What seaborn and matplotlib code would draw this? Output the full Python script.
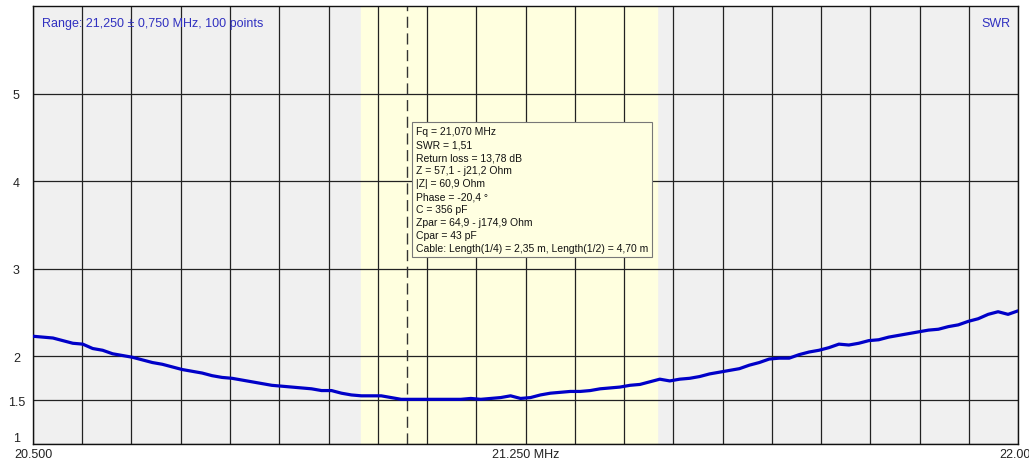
import numpy as np
import matplotlib
matplotlib.use('Agg')
import matplotlib.pyplot as plt
import seaborn as sns
import pandas as pd

# Sweep settings: 21,250 +/- 0,750 MHz, 100 points
freq_start = 20.5
freq_stop = 22.0
n_points = 100

# SWR readings (one per sweep point)
swr_values = [
    2.23, 2.22, 2.21, 2.18, 2.15, 2.14, 2.09, 2.07, 2.03, 2.01,
    1.99, 1.96, 1.93, 1.91, 1.88, 1.85, 1.83, 1.81, 1.78, 1.76,
    1.75, 1.73, 1.71, 1.69, 1.67, 1.66, 1.65, 1.64, 1.63, 1.61,
    1.61, 1.58, 1.56, 1.55, 1.55, 1.55, 1.53, 1.51, 1.51, 1.51,
    1.51, 1.51, 1.51, 1.51, 1.52, 1.51, 1.52, 1.53, 1.55, 1.52,
    1.53, 1.56, 1.58, 1.59, 1.60, 1.60, 1.61, 1.63, 1.64, 1.65,
    1.67, 1.68, 1.71, 1.74, 1.72, 1.74, 1.75, 1.77, 1.80, 1.82,
    1.84, 1.86, 1.90, 1.93, 1.97, 1.98, 1.98, 2.02, 2.05, 2.07,
    2.10, 2.14, 2.13, 2.15, 2.18, 2.19, 2.22, 2.24, 2.26, 2.28,
    2.30, 2.31, 2.34, 2.36, 2.40, 2.43, 2.48, 2.51, 2.48, 2.52,
]

# 15 m amateur band (highlighted) and the cursor frequency
band_start = 21.0
band_stop = 21.45
cursor_freq = 21.07

y_ticks = [1, 1.5, 2, 3, 4, 5]
y_tick_labels = ['1', '1.5', '2', '3', '4', '5']

cursor_info = [
    'Fq = 21,070 MHz',
    'SWR = 1,51',
    'Return loss = 13,78 dB',
    'Z = 57,1 - j21,2 Ohm',
    '|Z| = 60,9 Ohm',
    'Phase = -20,4 °',
    'C = 356 pF',
    'Zpar = 64,9 - j174,9 Ohm',
    'Cpar = 43 pF',
    'Cable: Length(1/4) = 2,35 m, Length(1/2) = 4,70 m',
]

df = pd.DataFrame({
    'freq': np.linspace(freq_start, freq_stop, n_points),
    'swr': swr_values,
})

sns.set_style('white')
plt.rcParams['font.family'] = ['Liberation Sans', 'DejaVu Sans']

fig = plt.figure(figsize=(10.29, 4.6), dpi=100)
ax = fig.add_axes([33 / 1029, 1 - 445 / 460, 985 / 1029, 438 / 460])
ax.set_facecolor('#f0f0f0')

# Band highlight and cursor line
ax.axvspan(band_start, band_stop, color='#ffffdf', zorder=0)
ax.axvline(cursor_freq, color='#333333', lw=1, ls=(0, (8, 4)), zorder=2)

# SWR trace
sns.lineplot(data=df, x='freq', y='swr', ax=ax, color='#0000c8', lw=2.3, zorder=3)

ax.set_xlim(freq_start, freq_stop)
ax.set_ylim(1, 6)

# 20 vertical divisions, only three labelled
x_ticks = np.linspace(freq_start, freq_stop, 21)
x_labels = [''] * 21
x_labels[0] = '20.500'
x_labels[10] = '21.250 MHz'
x_labels[20] = '22.000'
ax.set_xticks(x_ticks)
ax.set_xticklabels(x_labels)
ax.set_yticks(y_ticks)
ax.set_yticklabels(y_tick_labels)
for lbl in ax.get_yticklabels():
    lbl.set_horizontalalignment('center')
# the bottom label sits just above the axis line
ax.get_yticklabels()[0].set_verticalalignment('bottom')
ax.tick_params(axis='both', length=0, labelsize=9, colors='#222222')
ax.tick_params(axis='x', pad=3)
ax.tick_params(axis='y', pad=12)

ax.grid(True, color='#222222', lw=0.9)
ax.set_axisbelow(True)
for s in ax.spines.values():
    s.set_color('#111111')
    s.set_linewidth(1)

ax.set_xlabel('')
ax.set_ylabel('')

# Header texts
ax.text(0.009, 0.975, 'Range: 21,250 ± 0,750 MHz, 100 points', transform=ax.transAxes,
        ha='left', va='top', fontsize=9, color='#3030c0', zorder=5)
ax.text(0.992, 0.975, 'SWR', transform=ax.transAxes,
        ha='right', va='top', fontsize=9, color='#3030c0', zorder=5)

# Cursor readout box
ax.text(cursor_freq + 0.013, 4.63, '\n'.join(cursor_info), ha='left', va='top',
        fontsize=7.5, color='#111111', linespacing=1.38, zorder=6,
        bbox=dict(boxstyle='square,pad=0.35', fc='#ffffe1', ec='#777777', lw=0.8))

plt.savefig('out.png', dpi=100)
